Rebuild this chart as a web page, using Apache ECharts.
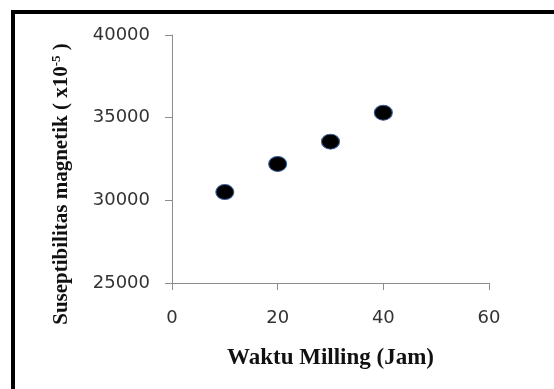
<!DOCTYPE html>
<html>
<head>
<meta charset="utf-8">
<script src="https://cdn.jsdelivr.net/npm/echarts@6/dist/echarts.min.js"></script>
<style>html,body{margin:0;padding:0;background:#fff}#c{width:554px;height:389px}</style>
</head>
<body>
<div id="c"></div>
<script>
const millingHours = [10, 20, 30, 40];
const susceptibility = [30500, 32200, 33550, 35300];
const xTicks = [0, 20, 40, 60];
const yTicks = [25000, 30000, 35000, 40000];

const chart = echarts.init(document.getElementById('c'), null, {renderer: 'canvas'});
chart.setOption({
  animation: false,
  backgroundColor: '#ffffff',
  graphic: [{
    type: 'rect',
    shape: {x: 13, y: 12, width: 700, height: 500},
    style: {fill: 'none', stroke: '#000', lineWidth: 4},
    z: 100
  }],
  grid: {left: 172, right: 65, top: 35, bottom: 106},
  xAxis: {
    type: 'value',
    min: xTicks[0], max: xTicks[xTicks.length - 1], interval: 20,
    axisLine: {show: true, lineStyle: {color: '#8c8c8c', width: 1}},
    axisTick: {show: true, inside: false, length: 7, lineStyle: {color: '#8c8c8c'}},
    splitLine: {show: false},
    axisLabel: {margin: 26, fontFamily: 'DejaVu Sans', fontSize: 18, color: '#333', formatter: v => String(v)},
    name: 'Waktu Milling (Jam)',
    nameLocation: 'middle',
    nameGap: 64,
    nameTextStyle: {fontFamily: 'Liberation Serif', fontWeight: 'bold', fontSize: 23, color: '#111'}
  },
  yAxis: {
    type: 'value',
    min: yTicks[0], max: yTicks[yTicks.length - 1], interval: 5000,
    axisLine: {show: true, lineStyle: {color: '#8c8c8c', width: 1}},
    axisTick: {show: true, inside: false, length: 7, lineStyle: {color: '#8c8c8c'}},
    splitLine: {show: false},
    axisLabel: {margin: 22, fontFamily: 'DejaVu Sans', fontSize: 18, color: '#333', formatter: v => String(v)},
    name: '{a|Suseptibilitas magnetik ( x10}{s|-5}{a| )}',
    nameLocation: 'middle',
    nameRotate: 90,
    nameGap: 98,
    nameTextStyle: {
      padding: [0, 50, 0, 0],
      rich: {
        a: {fontFamily: 'Liberation Serif', fontWeight: 'bold', fontSize: 21, color: '#111', lineHeight: 24},
        s: {fontFamily: 'Liberation Serif', fontWeight: 'bold', fontSize: 13, color: '#111', lineHeight: 24, verticalAlign: 'top', padding: [0, 0, 8, 0]}
      }
    }
  },
  series: [{
    type: 'scatter',
    data: millingHours.map((x, i) => [x, susceptibility[i]]),
    symbol: 'circle',
    symbolSize: [18, 15],
    itemStyle: {color: '#000', borderColor: '#3a5f9a', borderWidth: 1, opacity: 1}
  }]
});
</script>
</body>
</html>
